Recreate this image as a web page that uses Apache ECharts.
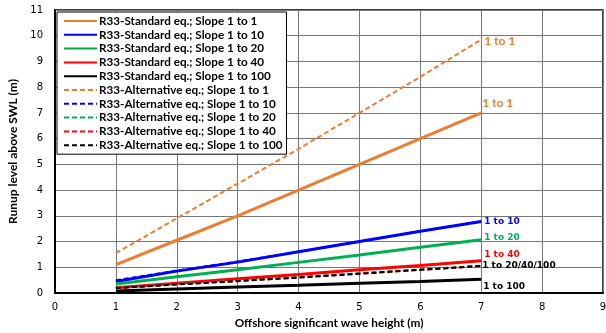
<!DOCTYPE html>
<html>
<head>
<meta charset="utf-8">
<script src="https://cdn.jsdelivr.net/npm/echarts@6/dist/echarts.min.js"></script>
<style>
  html, body { margin: 0; padding: 0; background: #fff; }
  #chart { width: 606px; height: 333px; }
</style>
</head>
<body>
<div id="chart"></div>
<script>
// wave height (m)
const waveHeight = [1, 2, 3, 4, 5, 6, 7];

// R33 standard equation
const std1to1   = [1.1, 2.05, 3.0, 4.0, 5.0, 6.0, 7.0];
const std1to10  = [0.45, 0.85, 1.2, 1.6, 2.0, 2.4, 2.78];
const std1to20  = [0.35, 0.63, 0.9, 1.19, 1.48, 1.78, 2.07];
const std1to40  = [0.2, 0.38, 0.55, 0.72, 0.9, 1.07, 1.25];
const std1to100 = [0.08, 0.16, 0.23, 0.3, 0.38, 0.45, 0.53];

// R33 alternative equation
const alt1to1   = [1.55, 2.9, 4.25, 5.6, 7.0, 8.4, 9.85];
const alt1to10  = [0.5, 0.87, 1.22, 1.6, 2.0, 2.4, 2.78];
const alt1to20  = [0.2, 0.35, 0.48, 0.62, 0.77, 0.91, 1.06];
const alt1to40  = [0.2, 0.34, 0.47, 0.61, 0.76, 0.9, 1.05];
const alt1to100 = [0.19, 0.33, 0.46, 0.6, 0.75, 0.9, 1.05];

const ORANGE = "#ED7D31";
const BLUE = "#0000FF";
const GREEN = "#00B050";
const RED = "#FF0000";
const BLACK = "#000000";

function pairs(ys) {
    return ys.map((y, i) => [waveHeight[i], y]);
}

function mkSeries(name, ys, color, dashed, endText, offset, big) {
    const s = {
        name: name,
        type: "line",
        data: pairs(ys),
        symbol: "none",
        silent: true,
        lineStyle: {
            color: color,
            width: dashed ? 2 : 3,
            type: dashed ? [5, 3] : "solid"
        },
        itemStyle: { color: color }
    };
    if (endText) {
        s.endLabel = {
            show: true,
            formatter: endText,
            color: color,
            fontFamily: big ? "Lato" : "DejaVu Sans",
            fontWeight: "bold",
            fontSize: big ? 12 : 9,
            distance: 3,
            offset: offset || [0, 0]
        };
    }
    return s;
}

const chart = echarts.init(document.getElementById("chart"), null, { renderer: "canvas" });

chart.setOption({
    animation: false,
    grid: { left: 55, right: 3, top: 10, bottom: 40, outerBoundsMode: "none" },
    legend: {
        orient: "vertical",
        left: 57,
        top: 12,
        backgroundColor: "#fff",
        borderColor: "#000",
        borderWidth: 1,
        padding: [3, 4, 3, 6],
        itemWidth: 33,
        itemHeight: 10,
        itemGap: 1.8,
        itemStyle: { color: "transparent", borderWidth: 0 },
        textStyle: {
            fontFamily: "Lato",
            fontWeight: "bold",
            fontSize: 11.7,
            lineHeight: 11,
            color: "#000",
            padding: [0, 0, 0, -3]
        }
    },
    xAxis: {
        type: "value",
        min: 0,
        max: 9,
        interval: 1,
        name: "Offshore significant wave height (m)",
        nameLocation: "middle",
        nameGap: 21,
        nameTextStyle: { fontFamily: "Lato", fontWeight: "bold", fontSize: 11.8, color: "#000" },
        axisLine: { lineStyle: { color: "#000", width: 2 } },
        axisTick: { show: false },
        axisLabel: {
            fontFamily: "DejaVu Sans",
            fontSize: 10,
            color: "#000",
            margin: 9
        },
        splitLine: { show: true, lineStyle: { color: "#777", width: 1 } }
    },
    yAxis: {
        type: "value",
        min: 0,
        max: 11,
        interval: 1,
        name: "Runup level above SWL (m)",
        nameLocation: "middle",
        nameGap: 28,
        nameTextStyle: { fontFamily: "Lato", fontWeight: "bold", fontSize: 12, color: "#000" },
        axisLine: { show: true, lineStyle: { color: "#000", width: 2 } },
        axisTick: { show: false },
        axisLabel: {
            fontFamily: "DejaVu Sans",
            fontSize: 10,
            color: "#000",
            margin: 12
        },
        splitLine: { show: true, lineStyle: { color: "#777", width: 1 } }
    },
    graphic: [{
        type: "rect",
        shape: { x: 55, y: 10, width: 548, height: 283 },
        style: { fill: "none", stroke: "#000", lineWidth: 1.5 },
        silent: true,
        z: 0
    }],
    series: [
        mkSeries("R33-Standard eq.; Slope 1 to 1", std1to1, ORANGE, false, "1 to 1", [-2, -10], true),
        mkSeries("R33-Standard eq.; Slope 1 to 10", std1to10, BLUE, false, "1 to 10", [0, 0]),
        mkSeries("R33-Standard eq.; Slope 1 to 20", std1to20, GREEN, false, "1 to 20", [0, -2]),
        mkSeries("R33-Standard eq.; Slope 1 to 40", std1to40, RED, false, "1 to 40", [0, -6]),
        mkSeries("R33-Standard eq.; Slope 1 to 100", std1to100, BLACK, false, "1 to 100", [-1, 7]),
        mkSeries("R33-Alternative eq.; Slope 1 to 1", alt1to1, ORANGE, true, "1 to 1", [0, 2], true),
        mkSeries("R33-Alternative eq.; Slope 1 to 10", alt1to10, BLUE, true),
        mkSeries("R33-Alternative eq.; Slope 1 to 20", alt1to20, GREEN, true),
        mkSeries("R33-Alternative eq.; Slope 1 to 40", alt1to40, RED, true),
        mkSeries("R33-Alternative eq.; Slope 1 to 100", alt1to100, BLACK, true, "1 to 20/40/100", [-2, 0])
    ]
});
</script>
</body>
</html>
